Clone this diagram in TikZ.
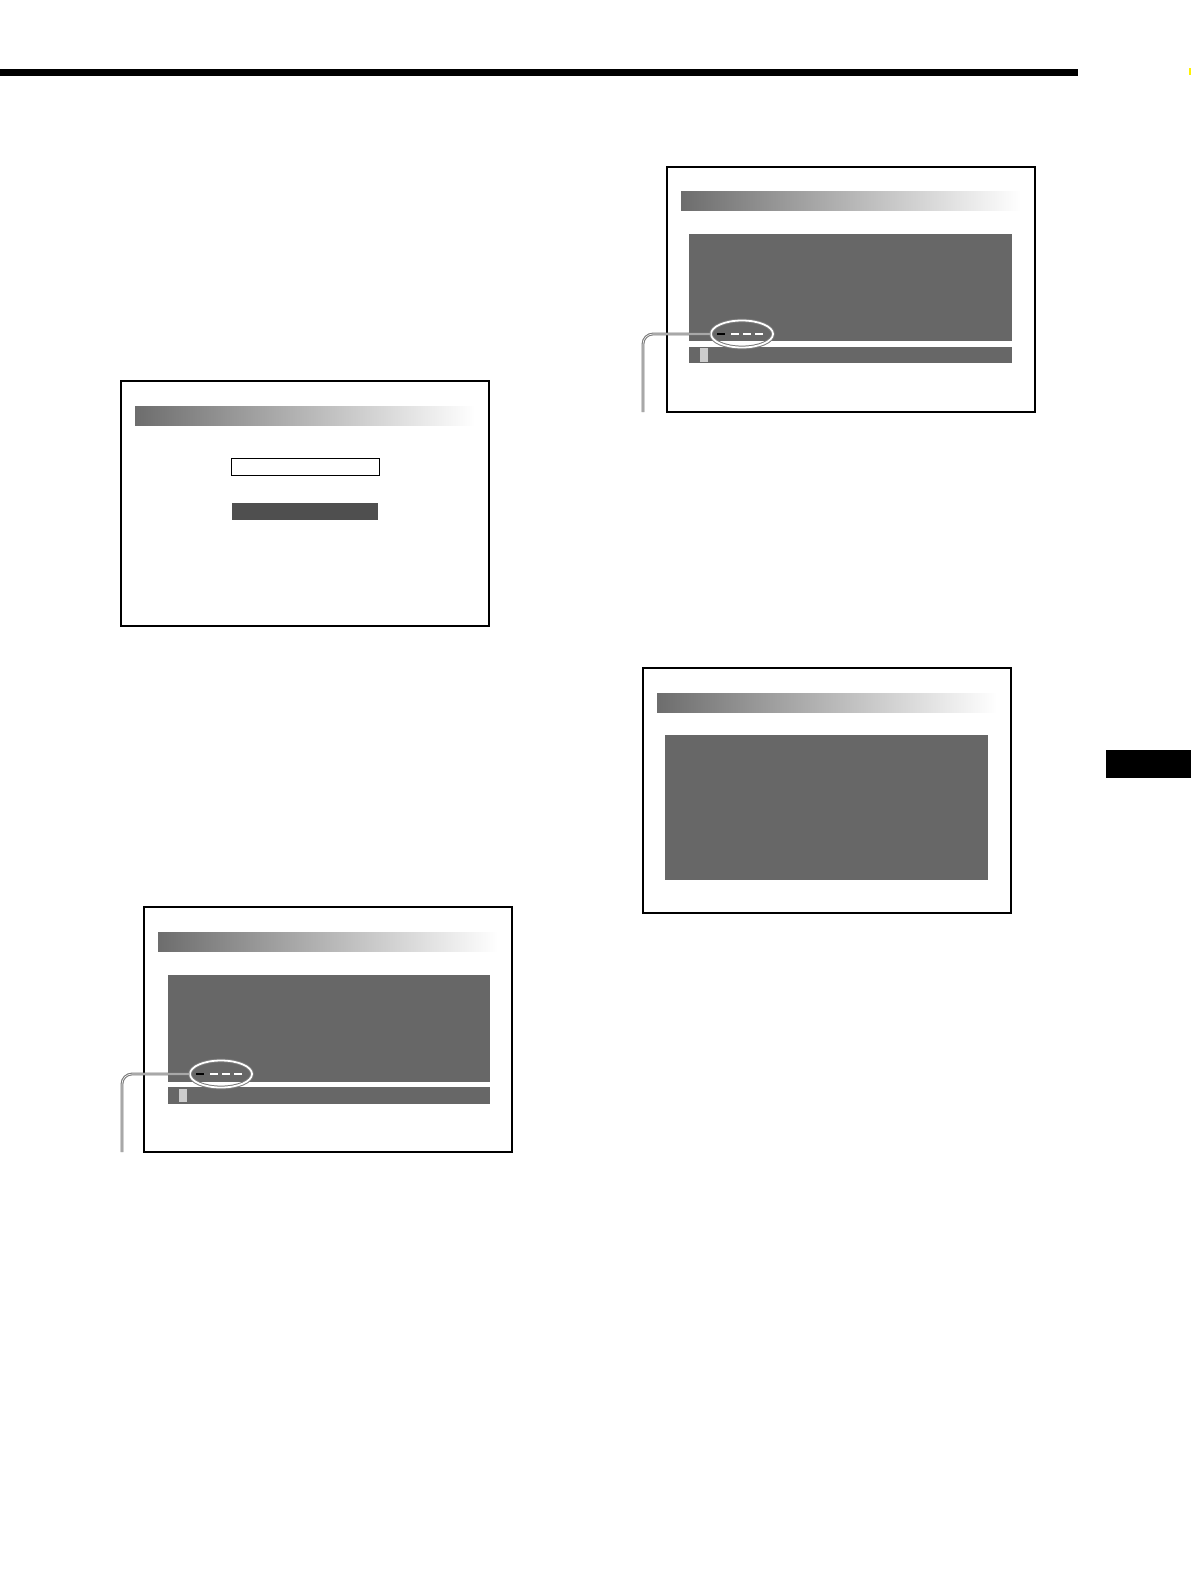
\documentclass[tikz,border=0pt]{standalone}
\usetikzlibrary{shapes.geometric}
\definecolor{barstart}{HTML}{6D6D6D}
\definecolor{barmid}{HTML}{9A9A9A}
\definecolor{panelgray}{HTML}{676767}
\definecolor{fieldgray}{HTML}{4F4F4F}
\definecolor{cursorgray}{HTML}{CCCCCC}
\definecolor{leadgray}{HTML}{7A7A7A}
\tikzset{
  frame/.style={draw,line width=1pt,fill=white,inner sep=0pt,outer sep=0pt,anchor=north west,minimum width=184pt,minimum height=122.5pt},
  titlebar/.style={left color=barstart,middle color=barmid,right color=white},
  panel/.style={fill=panelgray},
  marker/.style={ellipse,draw=leadgray,double=white,double distance=0.9pt,line width=0.5pt,inner sep=0pt,minimum width=31pt,minimum height=13.5pt},
  leader/.style={draw=leadgray,double=white,double distance=0.3pt,line width=0.55pt,rounded corners=5pt}
}
\newcommand{\screenbox}[2]{\node[frame] at (#1) (#2) {};
  \shade[titlebar] ([shift={(14,25)}]#2.north west) rectangle ++(340,19)}

\begin{document}
\begin{tikzpicture}[x=0.5pt,y=-0.5pt]
	\useasboundingbox (0,0) rectangle (1191,1589);
	\fill (0,69) rectangle (1078,76);
	\fill[yellow] (1189,68) rectangle (1191,75);
	\fill (1106,750) rectangle (1191,778);

	% menu screen
	\screenbox{121,381}{scrA};
	\draw[line width=0.5pt] (231,458) rectangle (379,475);
	\fill[fieldgray] (232,503) rectangle (378,520);

	% lower left screen
	\screenbox{144,907}{scrB};
	\fill[panel] (168,975) rectangle (490,1082);
	\fill[panel] (168,1087) rectangle (490,1104);
	\fill[cursorgray] (179,1089) rectangle (187,1102);
	\draw[line width=0.6pt] (196,1074) -- (204,1074);
	\draw[white,line width=0.6pt,dash pattern=on 4pt off 2pt] (210,1074) -- (244,1074);
	\node[marker] (markB) at (221,1074) {};
	\coordinate (legB) at (122,1152);
	\draw[leader] (markB.west) -| (legB);

	% upper right screen
	\screenbox{667,167}{scrC};
	\fill[panel] (689,234) rectangle (1012,341);
	\fill[panel] (689,347) rectangle (1012,363);
	\fill[cursorgray] (700,348) rectangle (708,362);
	\draw[line width=0.6pt] (717,334) -- (725,334);
	\draw[white,line width=0.6pt,dash pattern=on 4pt off 2pt] (731,334) -- (766,334);
	\node[marker] (markC) at (742,334) {};
	\coordinate (legC) at (643,412);
	\draw[leader] (markC.west) -| (legC);

	% lower right screen
	\screenbox{643,668}{scrD};
	\fill[panel] (665,735) rectangle (988,880);
\end{tikzpicture}
\end{document}
